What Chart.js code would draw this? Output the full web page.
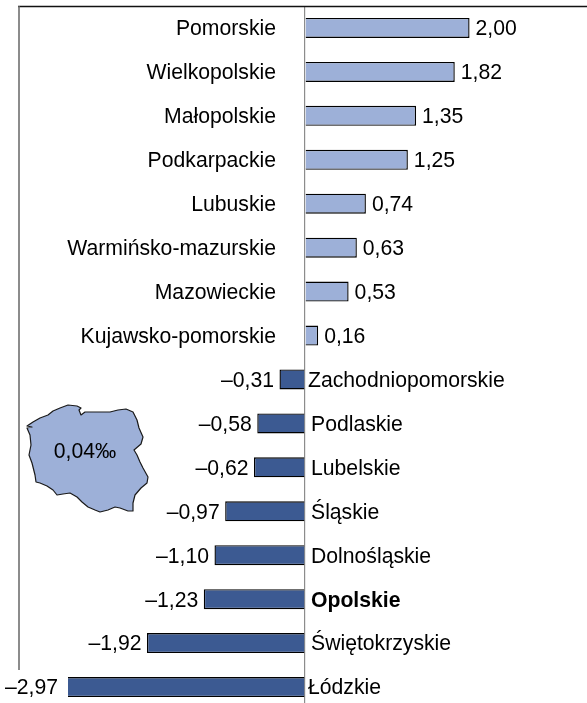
<!DOCTYPE html>
<html>
<head>
<meta charset="utf-8">
<script src="https://cdn.jsdelivr.net/npm/chart.js@4"></script>
<style>
html,body{margin:0;padding:0;background:#fff;overflow:hidden;width:587px;height:703px}
canvas{display:block}
</style>
</head>
<body>
<canvas id="c" width="587" height="720" style="width:587px;height:720px"></canvas>
<script>
const categories = ["Pomorskie","Wielkopolskie","Małopolskie","Podkarpackie","Lubuskie","Warmińsko-mazurskie","Mazowieckie","Kujawsko-pomorskie","Zachodniopomorskie","Podlaskie","Lubelskie","Śląskie","Dolnośląskie","Opolskie","Świętokrzyskie","Łódzkie"];
const values = [2.00,1.82,1.35,1.25,0.74,0.63,0.53,0.16,-0.31,-0.58,-0.62,-0.97,-1.10,-1.23,-1.92,-2.97];
const highlighted = "Opolskie";
const mapLabel = "0,04‰";
const mapOutline = [[27,426],[33,422],[40,418],[48,415],[53,411],[60,408],[68,405],[77,406],[81,408],[79,410],[81,415],[85,412],[92,412],[100,412],[110,412],[118,410],[126,409],[133,412],[137,420],[139,428],[143,437],[141,444],[134,450],[137,455],[140,462],[143,468],[148,477],[147,483],[141,488],[135,495],[133,503],[133,511],[128,511],[120,508],[115,507],[108,510],[100,512],[95,510],[88,507],[82,502],[77,497],[70,493],[63,494],[57,495],[53,490],[47,486],[40,483],[36,482],[35,475],[32,463],[29,455],[31,445],[30,435],[27,428],[32,427]];
const FONT = 'Liberation Sans, Arial, sans-serif';
const FONT_SIZE = '21.2px ';
const fmt = v => (v < 0 ? "–" : "") + Math.abs(v).toFixed(2).replace(".", ",");

const decor = {
  id: 'decor',
  afterDatasetsDraw(chart) {
    const {ctx, chartArea, scales:{x, y}} = chart;
    ctx.save();
    // frame
    ctx.strokeStyle = '#111'; ctx.lineWidth = 1.5;
    ctx.beginPath(); ctx.moveTo(18, 6.5); ctx.lineTo(587, 6.5); ctx.stroke();
    ctx.strokeStyle = '#666'; ctx.lineWidth = 1.5;
    ctx.beginPath(); ctx.moveTo(19, 6); ctx.lineTo(19, 670); ctx.stroke();
    // map
    ctx.beginPath();
    mapOutline.forEach((p, i) => i ? ctx.lineTo(p[0], p[1]) : ctx.moveTo(p[0], p[1]));
    ctx.closePath();
    ctx.fillStyle = '#9DB0D8'; ctx.fill();
    ctx.strokeStyle = '#1a1a1a'; ctx.lineWidth = 1.2; ctx.lineJoin = 'round'; ctx.stroke();
    ctx.fillStyle = '#000';
    ctx.textBaseline = 'middle';
    ctx.font = FONT_SIZE + FONT;
    ctx.textAlign = 'center';
    ctx.fillText(mapLabel, 85, 452);
    // labels
    categories.forEach((name, i) => {
      const v = values[i], py = y.getPixelForValue(i) + 1.5, px = x.getPixelForValue(v);
      ctx.font = FONT_SIZE + FONT;
      if (v >= 0) {
        ctx.textAlign = 'left';  ctx.fillText(fmt(v), px + 6, py);
        ctx.textAlign = 'right'; ctx.fillText(name, x.getPixelForValue(0) - 29, py);
      } else {
        const clipped = px < chartArea.left;
        const end = clipped ? chartArea.left - 10 : px - 5.5;
        ctx.textAlign = 'right'; ctx.fillText(fmt(v), end, py);
        ctx.textAlign = 'left';
        if (name === highlighted) ctx.font = 'bold ' + FONT_SIZE + FONT;
        const lx = name === "Zachodniopomorskie" || name === "Łódzkie" ? 3 : 6;
        ctx.fillText(name, x.getPixelForValue(0) + lx, py);
      }
    });
    ctx.restore();
  }
};

new Chart(document.getElementById('c'), {
  type: 'bar',
  data: {
    labels: categories,
    datasets: [{
      data: values,
      backgroundColor: values.map(v => v >= 0 ? '#9DB0D8' : '#3C5A92'),
      borderColor: '#000000',
      borderWidth: 1.4,
      barPercentage: 0.455,
      categoryPercentage: 1
    }]
  },
  plugins: [decor],
  options: {
    indexAxis: 'y',
    responsive: false,
    animation: false,
    events: [],
    layout: {padding: {left: 68, right: 0, top: 6, bottom: 11}},
    plugins: {legend: {display: false}, tooltip: {enabled: false}, title: {display: false}},
    scales: {
      x: {
        type: 'linear', min: -2.88, max: 3.427,
        afterBuildTicks(s) { s.ticks = [{value: 0}]; },
        ticks: {display: false},
        border: {display: false},
        grid: {color: '#8c8c8c', lineWidth: 1.2, drawTicks: false}
      },
      y: {
        display: false
      }
    }
  }
});
</script>
</body>
</html>
